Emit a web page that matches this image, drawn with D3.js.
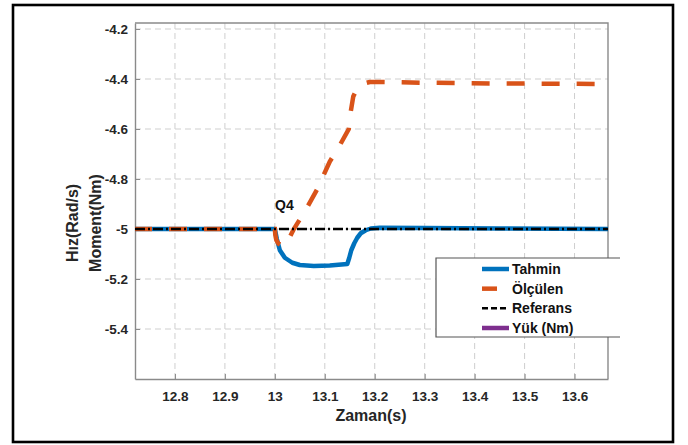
<!DOCTYPE html>
<html>
<head>
<meta charset="utf-8">
<script src="https://cdn.jsdelivr.net/npm/d3@7"></script>
<style>
  body { margin: 0; background: #fff; }
  text { font-family: 'Liberation Sans', Arial, sans-serif; font-weight: bold; }
</style>
</head>
<body>
<svg width="688" height="445"></svg>
<script>
// tick values
const xTicks = [12.8, 12.9, 13, 13.1, 13.2, 13.3, 13.4, 13.5, 13.6];
const yTicks = [-5.4, -5.2, -5, -4.8, -4.6, -4.4, -4.2];

// Tahmin (estimated)
const tahminTime = [12.72, 13.0, 13.004, 13.01, 13.02, 13.035, 13.05, 13.078, 13.11, 13.145, 13.149,
  13.153, 13.159, 13.165, 13.172, 13.182, 13.192, 13.21, 13.3, 13.45, 13.667];
const tahmin = [-5, -5, -5.04, -5.085, -5.115, -5.135, -5.144, -5.148, -5.146, -5.14, -5.115,
  -5.085, -5.057, -5.035, -5.017, -5.005, -4.998, -4.995, -4.996, -4.998, -5.0];

// Ölçülen (measured)
const olculenTime = [12.72, 13.0, 13.001, 13.003, 13.007, 13.013, 13.021, 13.038, 13.06, 13.085, 13.11, 13.13,
  13.148, 13.152, 13.157, 13.164, 13.175, 13.19, 13.21, 13.3, 13.45, 13.667];
const olculen = [-5, -5, -5.025, -5.045, -5.058, -5.065, -5.068, -5.0, -4.93, -4.84, -4.73, -4.665,
  -4.6, -4.53, -4.47, -4.44, -4.42, -4.412, -4.412, -4.415, -4.418, -4.42];

// Referans
const referansTime = [12.72, 13.667];
const referans = [-5, -5];

const legendNames = ['Tahmin', 'Ölçülen', 'Referans', 'Yük (Nm)'];
const blue = '#0072BD';
const orange = '#D95319';
const purple = '#7E2F8E';
const dark = '#262626';

const svg = d3.select('svg');

// outer frame
svg.append('rect')
  .attr('x', 13).attr('y', 5)
  .attr('width', 660).attr('height', 437)
  .attr('fill', 'none')
  .attr('stroke', '#000')
  .attr('stroke-width', 2.6);

const margin = { left: 135, top: 23, right: 608, bottom: 379 };
const x = d3.scaleLinear().domain([12.72, 13.667]).range([margin.left, margin.right]);
const y = d3.scaleLinear().domain([-5.6, -4.176]).range([margin.bottom, margin.top]);

// grid
svg.append('g')
  .selectAll('line')
  .data(xTicks)
  .join('line')
    .attr('x1', d => x(d)).attr('x2', d => x(d))
    .attr('y1', margin.top).attr('y2', margin.bottom)
    .attr('stroke', '#cfcfcf')
    .attr('stroke-dasharray', '6,4');
svg.append('g')
  .selectAll('line')
  .data(yTicks)
  .join('line')
    .attr('y1', d => y(d)).attr('y2', d => y(d))
    .attr('x1', margin.left).attr('x2', margin.right)
    .attr('stroke', '#cfcfcf')
    .attr('stroke-dasharray', '6,4');

// axes (ticks pointing inward like matlab)
const xAxis = svg.append('g')
  .attr('transform', `translate(0, ${margin.bottom})`)
  .call(d3.axisBottom(x).tickValues(xTicks).tickSizeInner(-5).tickSizeOuter(0).tickPadding(12)
    .tickFormat(d3.format('')));
const yAxis = svg.append('g')
  .attr('transform', `translate(${margin.left}, 0)`)
  .call(d3.axisLeft(y).tickValues(yTicks).tickSizeInner(-5).tickSizeOuter(0).tickPadding(7)
    .tickFormat(d => String(d)));
[xAxis, yAxis].forEach((g) => {
  g.select('.domain').attr('stroke', '#8a8a8a').attr('stroke-width', 1.4);
  g.selectAll('.tick line').attr('stroke', '#8a8a8a');
  g.selectAll('.tick text')
    .attr('fill', dark)
    .style('font-size', '13.5px')
    .style('font-family', "'Liberation Sans', Arial, sans-serif")
    .style('font-weight', 'bold');
});

// box top/right
svg.append('path')
  .attr('d', `M${margin.left},${margin.top}H${margin.right}V${margin.bottom}`)
  .attr('fill', 'none')
  .attr('stroke', '#8a8a8a')
  .attr('stroke-width', 1.4);

// clip for data
svg.append('clipPath').attr('id', 'plotclip')
  .append('rect')
  .attr('x', margin.left).attr('y', margin.top)
  .attr('width', margin.right - margin.left)
  .attr('height', margin.bottom - margin.top);

const line = d3.line()
  .x(d => x(d[0]))
  .y(d => y(d[1]));

const plot = svg.append('g').attr('clip-path', 'url(#plotclip)');

plot.append('path')
  .datum(d3.zip(tahminTime, tahmin))
  .attr('d', line)
  .attr('fill', 'none')
  .attr('stroke', blue)
  .attr('stroke-width', 4.5)
  .attr('stroke-linejoin', 'round');

// dash phase set so a dash starts right at t = 13
plot.append('path')
  .datum(d3.zip(olculenTime, olculen))
  .attr('d', line)
  .attr('fill', 'none')
  .attr('stroke', orange)
  .attr('stroke-width', 4.5)
  .attr('stroke-dasharray', '18,17')
  .attr('stroke-dashoffset', 35 * 4 - 139);

plot.append('path')
  .datum(d3.zip(referansTime, referans))
  .attr('d', line)
  .attr('fill', 'none')
  .attr('stroke', '#000')
  .attr('stroke-width', 2.5)
  .attr('stroke-dasharray', '10,3,2,3');

// annotation
svg.append('text')
  .attr('x', 275).attr('y', 210)
  .attr('fill', '#111')
  .style('font-size', '14px')
  .text('Q4');

// axis labels
svg.append('text')
  .attr('x', 371).attr('y', 421)
  .attr('text-anchor', 'middle')
  .attr('fill', dark)
  .style('font-size', '16px')
  .text('Zaman(s)');

const yLabel = svg.append('text')
  .attr('transform', 'translate(78, 223) rotate(-90)')
  .attr('text-anchor', 'middle')
  .attr('fill', dark)
  .style('font-size', '16px');
yLabel.append('tspan').attr('x', 0).attr('dy', 0).text('Hız(Rad/s)');
yLabel.append('tspan').attr('x', 0).attr('dy', 23).text('Moment(Nm)');

// legend (right edge runs off the axes, no right border)
const lg = svg.append('g');
lg.append('rect')
  .attr('x', 436).attr('y', 258)
  .attr('width', 184).attr('height', 79)
  .attr('fill', '#fff');
lg.append('path')
  .attr('d', 'M620,258H436V337H620')
  .attr('fill', 'none')
  .attr('stroke', '#555')
  .attr('stroke-width', 1.2);

const legendStyles = [
  { color: blue, width: 4.5, dash: null },
  { color: orange, width: 4.5, dash: '15,40' },
  { color: '#000', width: 2.5, dash: '6,3' },
  { color: purple, width: 4.5, dash: null },
];
const legendY = d3.scalePoint().domain(legendNames).range([269, 328]);
legendNames.forEach((name, i) => {
  const st = legendStyles[i];
  lg.append('line')
    .attr('x1', 482).attr('x2', 509)
    .attr('y1', legendY(name)).attr('y2', legendY(name))
    .attr('stroke', st.color)
    .attr('stroke-width', st.width)
    .attr('stroke-dasharray', st.dash);
  lg.append('text')
    .attr('x', 512).attr('y', legendY(name))
    .attr('dy', '0.36em')
    .attr('fill', '#111')
    .style('font-size', '14px')
    .text(name);
});
</script>
</body>
</html>
